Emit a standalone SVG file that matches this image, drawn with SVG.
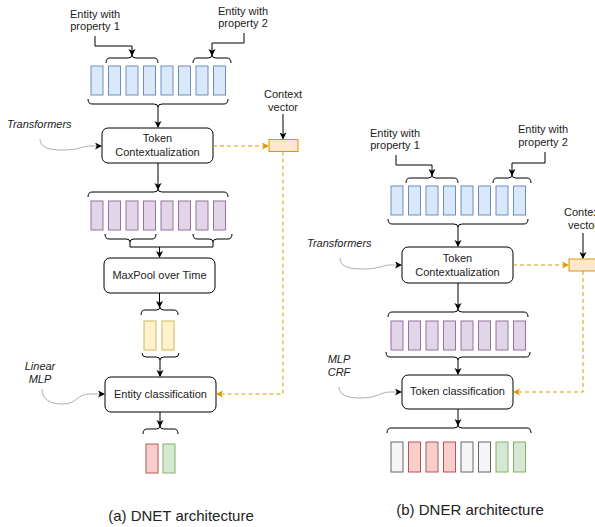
<svg xmlns="http://www.w3.org/2000/svg" width="595" height="527" viewBox="0 0 595 527">
<defs>
<marker id="arr" markerUnits="userSpaceOnUse" markerWidth="8" markerHeight="8" refX="6" refY="3.5" orient="auto">
<path d="M0,0 L7,3.5 L0,7 L1.8,3.5 Z" fill="#000"/>
</marker>
<marker id="arrO" markerUnits="userSpaceOnUse" markerWidth="8" markerHeight="8" refX="6" refY="3.5" orient="auto">
<path d="M0,0 L7,3.5 L0,7 L1.8,3.5 Z" fill="#d79b00"/>
</marker>
<style>
text{font-family:"Liberation Sans",Arial,sans-serif;font-size:11px;fill:#222}
.c{text-anchor:middle}
.it{font-style:italic}
.cap{font-size:15px;text-anchor:middle}
.box{fill:#fff;stroke:#000;stroke-width:1}
.br{fill:none;stroke:#000;stroke-width:1}
.ln{fill:none;stroke:#000;stroke-width:1}
.ar{fill:none;stroke:#000;stroke-width:1;marker-end:url(#arr)}
.gc{fill:none;stroke:#999;stroke-width:0.8;marker-end:url(#arr)}
.da{fill:none;stroke:#d79b00;stroke-width:1;stroke-dasharray:4 3;marker-end:url(#arrO)}
.dl{fill:none;stroke:#d79b00;stroke-width:1;stroke-dasharray:4 3}
.blue{fill:#dae8fc;stroke:#6c8ebf}
.pur{fill:#e1d5e7;stroke:#9673a6}
.yel{fill:#fff2cc;stroke:#d6b656}
.red{fill:#f8cecc;stroke:#b85450}
.grn{fill:#d5e8d4;stroke:#82b366}
.gry{fill:#f5f5f5;stroke:#666}
.org{fill:#ffe6cc;stroke:#d79b00}
</style>
</defs>

<!-- ===== (a) DNET ===== -->
<g id="a-label1"><text class="c" x="95" y="18">Entity with</text><text class="c" x="95" y="30">property 1</text></g>
<g id="a-label2"><text class="c" x="243" y="15">Entity with</text><text class="c" x="243" y="27">property 2</text></g>
<g id="a-ctxlabel"><text class="c" x="283" y="98">Context</text><text class="c" x="283" y="111">vector</text></g>
<g id="a-transformers"><text class="it" x="7" y="128">Transformers</text></g>
<g id="a-linearmlp"><text class="c it" x="40" y="370">Linear</text><text class="c it" x="40" y="383">MLP</text></g>

<g id="a-input">
<path class="br" d="M106,63 Q106,58 110,58 H128 Q132,58 132,55 Q132,58 136,58 H154 Q158,58 158,63"/>
<path class="br" d="M193,63 Q193,58 197,58 H208 Q212,58 212,55 Q212,58 216,58 H227 Q231,58 231,63"/>
<rect class="blue" x="91" y="66" width="12" height="29"/>
<rect class="blue" x="108.5" y="66" width="12" height="29"/>
<rect class="blue" x="126" y="66" width="12" height="29"/>
<rect class="blue" x="143.5" y="66" width="12" height="29"/>
<rect class="blue" x="161" y="66" width="12" height="29"/>
<rect class="blue" x="178.5" y="66" width="12" height="29"/>
<rect class="blue" x="196" y="66" width="12" height="29"/>
<rect class="blue" x="213.5" y="66" width="12" height="29"/>
<path class="br" d="M88,99 Q88,104 92,104 H154 Q158,104 158,107 Q158,104 162,104 H224 Q228,104 228,99"/>
</g>

<g id="a-tokenctx">
<rect class="box" x="102" y="128" width="111" height="35" rx="6"/>
<text class="c" x="157.5" y="142">Token</text><text class="c" x="157.5" y="156">Contextualization</text>
</g>

<g id="a-ctxvec"><rect class="org" x="269" y="139.5" width="29" height="12"/></g>

<g id="a-contextual">
<path class="br" d="M88,197 Q88,192 92,192 H154 Q158,192 158,189 Q158,192 162,192 H224 Q228,192 228,197"/>
<rect class="pur" x="91" y="201" width="12" height="29"/>
<rect class="pur" x="108.5" y="201" width="12" height="29"/>
<rect class="pur" x="126" y="201" width="12" height="29"/>
<rect class="pur" x="143.5" y="201" width="12" height="29"/>
<rect class="pur" x="161" y="201" width="12" height="29"/>
<rect class="pur" x="178.5" y="201" width="12" height="29"/>
<rect class="pur" x="196" y="201" width="12" height="29"/>
<rect class="pur" x="213.5" y="201" width="12" height="29"/>
<path class="br" d="M105,234 Q105,239 109,239 H126 Q130,239 130,242 Q130,239 134,239 H152 Q156,239 156,234"/>
<path class="br" d="M193,234 Q193,239 197,239 H209 Q213,239 213,242 Q213,239 217,239 H228 Q232,239 232,234"/>
</g>

<g id="a-maxpool">
<rect class="box" x="104" y="258" width="111" height="35" rx="6"/>
<text class="c" x="159.5" y="279">MaxPool over Time</text>
</g>

<g id="a-pooled">
<path class="br" d="M141,315 Q141,310 145,310 H156 Q160,310 160,307 Q160,310 164,310 H174 Q178,310 178,315"/>
<rect class="yel" x="144" y="321" width="12" height="29"/>
<rect class="yel" x="162" y="321" width="12" height="29"/>
<path class="br" d="M142,353 Q142,357 146,357 H156 Q160,357 160,360 Q160,357 164,357 H175 Q179,357 179,353"/>
</g>

<g id="a-entcls">
<rect class="box" x="105" y="377" width="111" height="35" rx="6"/>
<text class="c" x="160.5" y="398">Entity classification</text>
</g>

<g id="a-output">
<path class="br" d="M143,434 Q143,429 147,429 H156 Q160,429 160,426 Q160,429 164,429 H174 Q178,429 178,434"/>
<rect class="red" x="146" y="444" width="12" height="29"/>
<rect class="grn" x="163" y="444" width="12" height="29"/>
</g>

<g id="a-caption"><text class="cap" x="181" y="521">(a) DNET architecture</text></g>

<!-- ===== (b) DNER ===== -->
<g id="b-label1"><text class="c" x="395" y="137">Entity with</text><text class="c" x="395" y="149">property 1</text></g>
<g id="b-label2"><text class="c" x="543" y="133">Entity with</text><text class="c" x="543" y="146">property 2</text></g>
<g id="b-ctxlabel"><text class="c" x="583" y="216">Context</text><text class="c" x="583" y="229">vector</text></g>
<g id="b-transformers"><text class="it" x="307" y="247">Transformers</text></g>
<g id="b-mlpcrf"><text class="c it" x="339" y="363">MLP</text><text class="c it" x="339" y="376">CRF</text></g>

<g id="b-input">
<path class="br" d="M406,183 Q406,178 410,178 H428 Q432,178 432,175 Q432,178 436,178 H454 Q458,178 458,183"/>
<path class="br" d="M493,183 Q493,178 497,178 H508 Q512,178 512,175 Q512,178 516,178 H527 Q531,178 531,183"/>
<rect class="blue" x="391" y="186" width="12" height="29"/>
<rect class="blue" x="408.5" y="186" width="12" height="29"/>
<rect class="blue" x="426" y="186" width="12" height="29"/>
<rect class="blue" x="443.5" y="186" width="12" height="29"/>
<rect class="blue" x="461" y="186" width="12" height="29"/>
<rect class="blue" x="478.5" y="186" width="12" height="29"/>
<rect class="blue" x="496" y="186" width="12" height="29"/>
<rect class="blue" x="513.5" y="186" width="12" height="29"/>
<path class="br" d="M388,219 Q388,224 392,224 H454 Q458,224 458,227 Q458,224 462,224 H524 Q528,224 528,219"/>
</g>

<g id="b-tokenctx">
<rect class="box" x="402" y="247" width="111" height="36" rx="6"/>
<text class="c" x="457.5" y="262">Token</text><text class="c" x="457.5" y="276">Contextualization</text>
</g>

<g id="b-ctxvec"><rect class="org" x="569" y="259" width="40" height="12"/></g>

<g id="b-contextual">
<path class="br" d="M388,317 Q388,312 392,312 H454 Q458,312 458,309 Q458,312 462,312 H524 Q528,312 528,317"/>
<rect class="pur" x="391" y="321" width="12" height="29"/>
<rect class="pur" x="408.5" y="321" width="12" height="29"/>
<rect class="pur" x="426" y="321" width="12" height="29"/>
<rect class="pur" x="443.5" y="321" width="12" height="29"/>
<rect class="pur" x="461" y="321" width="12" height="29"/>
<rect class="pur" x="478.5" y="321" width="12" height="29"/>
<rect class="pur" x="496" y="321" width="12" height="29"/>
<rect class="pur" x="513.5" y="321" width="12" height="29"/>
<path class="br" d="M386,352 Q386,357 390,357 H454 Q458,357 458,360 Q458,357 462,357 H526 Q530,357 530,352"/>
</g>

<g id="b-tokcls">
<rect class="box" x="402" y="375" width="111" height="34" rx="6"/>
<text class="c" x="457.5" y="395">Token classification</text>
</g>

<g id="b-output">
<path class="br" d="M387,433 Q387,428 391,428 H454 Q458,428 458,425 Q458,428 462,428 H527 Q531,428 531,433"/>
<rect class="gry" x="391" y="442" width="12" height="30"/>
<rect class="red" x="408.5" y="442" width="12" height="30"/>
<rect class="red" x="426" y="442" width="12" height="30"/>
<rect class="red" x="443.5" y="442" width="12" height="30"/>
<rect class="gry" x="461" y="442" width="12" height="30"/>
<rect class="gry" x="478.5" y="442" width="12" height="30"/>
<rect class="grn" x="496" y="442" width="12" height="30"/>
<rect class="grn" x="513.5" y="442" width="12" height="30"/>
</g>

<g id="b-caption"><text class="cap" x="470" y="515">(b) DNER architecture</text></g>

<!-- ===== connectors ===== -->
<g id="connectors">
<path class="ar" d="M95,36 V46 H132 V55"/>
<path class="ar" d="M244,33 V43 H212 V55"/>
<path class="ar" d="M158,107 V127"/>
<path class="gc" d="M40,139 C40,147 48,150 62,150 C80,150 82,146 90,146 L101,146"/>
<path class="da" d="M213,146 H268"/>
<path class="ar" d="M283,114 V138.5"/>
<path class="da" d="M283,151.5 V394 H217"/>
<path class="ar" d="M158,163 V189"/>
<path class="ln" d="M130,242 V247 H213 V242"/>
<path class="ar" d="M159.5,247 V257"/>
<path class="ar" d="M159.5,293 V307"/>
<path class="ar" d="M160,360 V376"/>
<path class="gc" d="M42,389 C42,399 50,404 62,404 C78,404 76,394 90,394 L104,394"/>
<path class="ar" d="M160,412 V426"/>

<path class="ar" d="M396,155 V165 H432 V175"/>
<path class="ar" d="M545,152 V163 H512 V175"/>
<path class="ar" d="M458,227 V246"/>
<path class="gc" d="M340,258 C340,266 348,269 362,269 C380,269 382,265 390,265 L401,265"/>
<path class="da" d="M513,265 H568"/>
<path class="ar" d="M583,233 V258"/>
<path class="da" d="M583,271 V392 H514"/>
<path class="ar" d="M458,283 V309"/>
<path class="ar" d="M458,360 V374"/>
<path class="gc" d="M339,387 C339,395 347,398 360,398 C378,398 380,392 390,392 L401,392"/>
<path class="ar" d="M458,409 V425"/>
</g>
</svg>
